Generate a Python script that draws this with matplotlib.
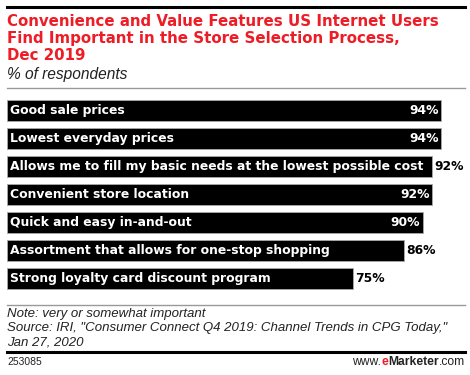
import matplotlib
matplotlib.use('Agg')
import matplotlib.pyplot as plt
from matplotlib.lines import Line2D

categories = ['Good sale prices',
              'Lowest everyday prices',
              'Allows me to fill my basic needs at the lowest possible cost',
              'Convenient store location',
              'Quick and easy in-and-out',
              'Assortment that allows for one-stop shopping',
              'Strong loyalty card discount program']
values = [94, 94, 92, 92, 90, 86, 75]
inside = [True, True, False, True, True, False, False]

W, H = 470, 375
fig = plt.figure(figsize=(W / 100, H / 100), dpi=100)
plt.rcParams['font.family'] = ['Liberation Sans', 'DejaVu Sans']
BOLD = 'DejaVu Sans'


def fx(px):
    return px / W


def fy(py):
    return 1 - py / H


def hline(y, x0, x1, color, lw):
    fig.add_artist(Line2D([fx(x0), fx(x1)], [fy(y), fy(y)], color=color,
                          linewidth=lw, transform=fig.transFigure))


# header
hline(7, 7, 465, 'black', 2.2)
title_lines = ['Convenience and Value Features US Internet Users',
               'Find Important in the Store Selection Process,',
               'Dec 2019']
for k, line in enumerate(title_lines):
    fig.text(fx(7), fy(21 + 17.3 * k), line, color='#ee1c25', fontsize=10.8,
             fontweight='bold', family=BOLD, va='center', ha='left')
fig.text(fx(7), fy(75), '% of respondents', fontsize=11.2, style='italic',
         va='center', ha='left', color='#222222')
hline(88, 7, 465, '#999999', 1.0)

# bars
ax = fig.add_axes([fx(7), fy(292.5), 461.7 / W, 196 / H])
ypos = list(range(len(categories)))
ax.barh(ypos, values, height=0.75, color='black', edgecolor='#aaaaaa',
        linewidth=0.6)
ax.set_xlim(0, 100)
ax.set_ylim(6.5, -0.5)
ax.axis('off')
for i, (cat, v, ins) in enumerate(zip(categories, values, inside)):
    ax.text(0.7, i, cat, color='white', fontsize=8.9, fontweight='bold',
            family=BOLD, va='center', ha='left')
    if ins:
        ax.text(v - 0.5, i, f'{v}%', color='white', fontsize=8.9,
                fontweight='bold', family=BOLD, va='center', ha='right')
    else:
        ax.text(v + 0.5, i, f'{v}%', color='black', fontsize=8.9,
                fontweight='bold', family=BOLD, va='center', ha='left')

# footer
hline(305, 7, 465, '#999999', 1.0)
notes = ['Note: very or somewhat important',
         'Source: IRI, "Consumer Connect Q4 2019: Channel Trends in CPG Today,"',
         'Jan 27, 2020']
for k, line in enumerate(notes):
    fig.text(fx(7), fy(313.5 + 14.5 * k), line, fontsize=9.5, style='italic',
             va='center', ha='left', color='#222222')
hline(352, 7, 465, 'black', 2.2)
fig.text(fx(7), fy(362), '253085', fontsize=7.5, va='center', ha='left',
         color='#222222')
t = fig.text(fx(465), fy(362), '.com', fontsize=8.7, va='center', ha='right',
             color='#222222')
fig.canvas.draw()
bb = t.get_window_extent()
t2 = fig.text(bb.x0 / W, fy(362), 'Marketer', fontsize=8.7, va='center',
              ha='right', color='#222222', fontweight='bold')
bb2 = t2.get_window_extent()
t3 = fig.text(bb2.x0 / W, fy(362), 'e', fontsize=8.7, va='center',
              ha='right', color='#ee1c25', fontweight='bold')
bb3 = t3.get_window_extent()
fig.text(bb3.x0 / W, fy(362), 'www.', fontsize=8.7, va='center', ha='right',
         color='#222222')

fig.savefig('out.png', dpi=100)
